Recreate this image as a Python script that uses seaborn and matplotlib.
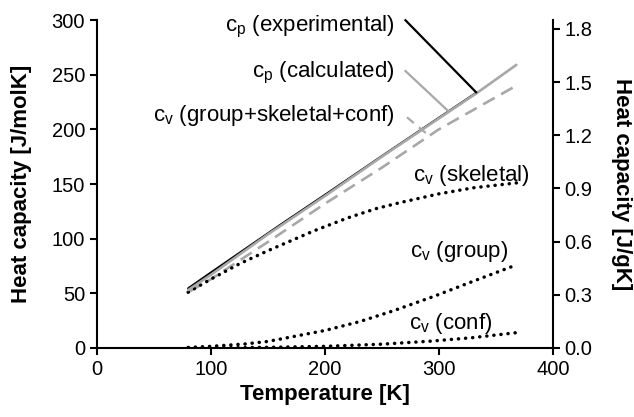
import numpy as np
import pandas as pd
import matplotlib
matplotlib.use("Agg")
import matplotlib.pyplot as plt
import seaborn as sns

# ---- data ----
T_exp = [80, 100, 130, 160, 200, 250, 300, 333]
cp_exp = [54.5, 69, 90.5, 112, 140, 175.5, 210.5, 233.5]

T_calc = [80, 100, 150, 200, 250, 300, 333, 368]
cp_calc = [53, 67, 104, 139, 175, 210, 233, 259]

T_cv = [80, 100, 150, 200, 250, 300, 368]
cv_total = [51, 63, 97, 132, 165, 200, 240]

T_skel = [80, 100, 125, 150, 190, 220, 245, 266, 300, 330, 368]
cv_skel = [51, 63, 77, 89, 107, 119, 127.5, 133, 141, 146.5, 151]

T_group = [80, 100, 130, 150, 180, 200, 230, 260, 295, 330, 368]
cv_group = [0.5, 1.5, 3.7, 6, 12, 16, 24, 34, 47, 61, 76]

T_conf = [80, 120, 150, 200, 250, 295, 330, 368]
cv_conf = [0.1, 0.3, 0.6, 1.5, 3.5, 6.4, 9.5, 14]

molar_mass = 162.14  # g/mol, for the right axis

x_ticks = [0, 100, 200, 300, 400]
y_ticks = [0, 50, 100, 150, 200, 250, 300]
y2_ticks = [0.0, 0.3, 0.6, 0.9, 1.2, 1.5, 1.8]

sns.set_style("ticks")
plt.rcParams['font.family'] = ['Liberation Sans', 'DejaVu Sans']
plt.rcParams['mathtext.fontset'] = 'custom'
plt.rcParams['mathtext.rm'] = 'Liberation Sans'
plt.rcParams['text.color'] = 'black'
plt.rcParams['axes.labelcolor'] = 'black'
plt.rcParams['xtick.color'] = 'black'
plt.rcParams['ytick.color'] = 'black'

fig = plt.figure(figsize=(6.34, 4.17), dpi=100)
ax = fig.add_axes([0.153, 0.1655, 0.719, 0.7865])

grey = "#a8a8a8"
dot_style = (0, (0.05, 2.0))

sns.lineplot(x=T_exp, y=cp_exp, ax=ax, color="black", lw=1.6, sort=False, estimator=None)
sns.lineplot(x=T_cv, y=cv_total, ax=ax, color=grey, lw=1.9, sort=False, estimator=None,
             linestyle=(0, (5, 2.8)))
for tt, vv in ((T_skel, cv_skel), (T_group, cv_group), (T_conf, cv_conf)):
    sns.lineplot(x=tt, y=vv, ax=ax, color="black", lw=2.5, sort=False, estimator=None,
                 linestyle=dot_style, dash_capstyle="round")
sns.lineplot(x=T_calc, y=cp_calc, ax=ax, color=grey, lw=1.9, sort=False, estimator=None)

# leader lines from labels to curves
ax.plot([270, 333.3], [300.5, np.interp(333.3, T_calc, cp_calc)], color="black", lw=1.6,
        clip_on=False, solid_capstyle="butt")
ax.plot([270, 308.8], [254, np.interp(308.8, T_calc, cp_calc)], color=grey, lw=1.6,
        solid_capstyle="butt")
ax.plot([272, 291.5], [211, np.interp(291.5, T_cv, cv_total)], color=grey, lw=1.6,
        linestyle=(0, (4, 3)))

fs_lab = 16
ax.text(261, 294, r"c$_\mathrm{p}$ (experimental)", ha="right", va="center", fontsize=fs_lab)
ax.text(261, 252, r"c$_\mathrm{p}$ (calculated)", ha="right", va="center", fontsize=fs_lab)
ax.text(261, 213, r"c$_\mathrm{v}$ (group+skeletal+conf)", ha="right", va="center", fontsize=fs_lab)
ax.text(380, 158, r"c$_\mathrm{v}$ (skeletal)", ha="right", va="center", fontsize=fs_lab)
ax.text(360.5, 88, r"c$_\mathrm{v}$ (group)", ha="right", va="center", fontsize=fs_lab)
ax.text(347, 22, r"c$_\mathrm{v}$ (conf)", ha="right", va="center", fontsize=fs_lab)

ax.set_xlim(0, 400)
ax.set_ylim(0, 300)
ax.set_xticks(x_ticks)
ax.set_yticks(y_ticks)
ax.set_xlabel("Temperature [K]", fontsize=16, fontweight="bold", labelpad=4)
ax.set_ylabel("Heat capacity [J/molK]", fontsize=16, fontweight="bold", labelpad=14)
ax.tick_params(axis="both", labelsize=14.5, width=1.5, length=5, color="black")

ax2 = ax.twinx()
ax2.set_ylim(0, 300 / molar_mass)
ax2.set_yticks(y2_ticks)
ax2.set_yticklabels([f"{v:.1f}" for v in y2_ticks])
ax2.set_ylabel("Heat capacity [J/gK]", fontsize=16, fontweight="bold", rotation=270,
               labelpad=28)
ax2.tick_params(axis="y", labelsize=14.5, width=1.5, length=5, color="black")

for a in (ax, ax2):
    for side in ("left", "bottom", "right"):
        a.spines[side].set_linewidth(1.5)
        a.spines[side].set_color("black")
    a.spines["top"].set_visible(False)
ax.spines["right"].set_visible(False)
ax2.spines["left"].set_visible(False)
ax2.spines["bottom"].set_visible(False)
ax2.spines["right"].set_visible(True)

fig.savefig("out.png", dpi=100)
